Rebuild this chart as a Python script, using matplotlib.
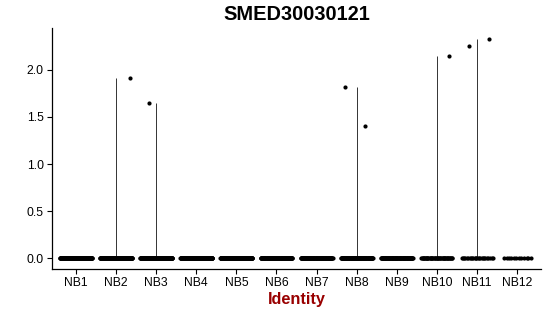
import numpy as np
import matplotlib
matplotlib.use("Agg")
import matplotlib.pyplot as plt

plt.rcParams['font.family'] = ['Liberation Sans', 'DejaVu Sans']

groups = ["NB1", "NB2", "NB3", "NB4", "NB5", "NB6", "NB7", "NB8", "NB9", "NB10", "NB11", "NB12"]
zero_counts = [200, 200, 200, 200, 200, 110, 110, 110, 100, 50, 25, 12]
nonzero_values = [[], [1.91], [1.65], [], [], [], [], [1.82, 1.40], [], [2.15], [2.25, 2.33], []]
yticks = [0.0, 0.5, 1.0, 1.5, 2.0]
title = "SMED30030121"
xlabel = "Identity"

fig = plt.figure(figsize=(5.5, 3.16), dpi=100)
ax = fig.add_axes([52/550, 47/316, (541-52)/550, (269-28)/316])

golden = 0.6180339887
for gi, (g, nz, zc) in enumerate(zip(groups, nonzero_values, zero_counts)):
    pos = gi + 1
    vals = np.array(list(nz) + [0.0] * zc)
    idx = np.arange(len(vals))
    phase = (gi * 0.37 + 0.55) % 1
    jit = (((idx * golden + phase) % 1.0) - 0.5) * 0.8
    if vals.max() > 0:
        ax.vlines(pos, 0, vals.max(), color="#333333", lw=0.7, zorder=1)
    ax.scatter(pos + jit, vals, s=9, color="black", linewidths=0, zorder=2)

ymax_data = max(max(v) for v in nonzero_values if v)
pad = ymax_data * 0.05
ax.set_ylim(-pad, ymax_data + pad)
ax.set_xlim(0.4, len(groups) + 0.6)
ax.set_xticks(range(1, len(groups) + 1))
ax.set_xticklabels(groups)
ax.set_yticks(yticks)
ax.set_yticklabels([f"{t:.1f}" for t in yticks])

for s in ["top", "right"]:
    ax.spines[s].set_visible(False)
for s in ["left", "bottom"]:
    ax.spines[s].set_linewidth(0.9)
    ax.spines[s].set_color("black")
ax.tick_params(axis="both", length=3.5, width=0.8, labelsize=8.7, colors="black", pad=2.5)

ax.set_title(title, fontsize=14.4, fontweight="bold", pad=6)
ax.set_xlabel(xlabel, fontsize=11.7, fontweight="bold", color="#990000", labelpad=2)

fig.savefig("out.png", dpi=100)
